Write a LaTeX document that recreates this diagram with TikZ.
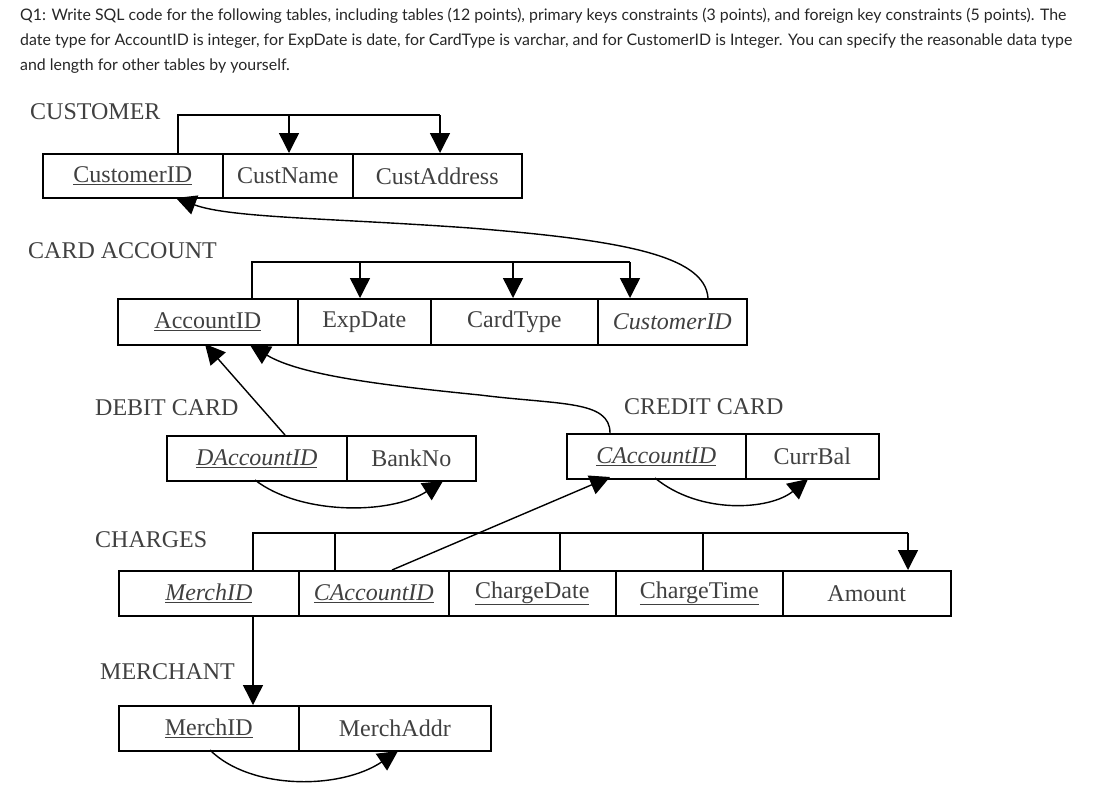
\documentclass[tikz,border=0pt]{standalone}
\usepackage{fontspec}
\setmainfont{Liberation Serif}
\newfontfamily\lato{Lato}
\usetikzlibrary{arrows.meta}
\begin{document}
\begin{tikzpicture}[x=1pt,y=-1pt,
  cell/.style={draw,line width=1.6pt,font=\fontsize{24}{24}\selectfont,text=black!75,inner sep=0pt,anchor=north west},
  lbl/.style={font=\fontsize{24}{24}\selectfont,text=black!75,anchor=west,inner sep=0pt},
  ar/.style={line width=1.4pt,-{Triangle[length=20pt,width=20pt]}},
  ln/.style={line width=1.4pt}]
\useasboundingbox (0,0) rectangle (1116,796);
\node[anchor=north west,inner sep=0pt,align=left,font=\lato\fontsize{15.9}{25}\selectfont,text=black!85] (hdr) at (20,8)
{Q1: Write SQL code for the following tables, including tables (12 points), primary keys constraints (3 points), and foreign key constraints (5 points). The\\
date type for AccountID is integer, for ExpDate is date, for CardType is varchar, and for CustomerID is Integer. You can specify the reasonable data type\\
and length for other tables by yourself.};
\newcommand\cel[6]{\node[cell,minimum width=#4-#2,minimum height=#5-#3] (#1) at (#2,#3) {#6};}
% CUSTOMER
\node[lbl] (lc) at (30,112) {CUSTOMER};
\cel{c1}{42}{153}{222}{197}{\underline{CustomerID}}
\cel{c2}{222}{153}{352}{197}{CustName}
\cel{c3}{352}{153}{521}{197}{CustAddress}
\coordinate (cb) at (178,115);
\draw[ln] (178,153) -- (cb) -- (440,115);
\draw[ar] (289,115) -- (289,153);
\draw[ar] (440,115) -- (440,153);
% CARD ACCOUNT
\node[lbl] (la) at (28,251) {CARD ACCOUNT};
\cel{a1}{117}{298}{297}{344}{\underline{AccountID}}
\cel{a2}{297}{298}{430}{344}{ExpDate}
\cel{a3}{430}{298}{597}{344}{CardType}
\cel{a4}{597}{298}{746}{344}{\itshape CustomerID}
\draw[ln] (252,298) -- (252,262) -- (630,262);
\draw[ar] (360,262) -- (360,298);
\draw[ar] (513,262) -- (513,298);
\draw[ar] (630,262) -- (630,298);
\draw[ar] (708,298) .. controls (705,255) and (620,240) .. (470,228) .. controls (330,218) and (230,218) .. (176,198);
% DEBIT CARD
\node[lbl] (ld) at (95,408) {DEBIT CARD};
\cel{d1}{166}{435}{346}{480}{\itshape\underline{DAccountID}}
\cel{d2}{346}{435}{475}{480}{BankNo}
\draw[ar] (285,435) -- (205,344);
\draw[ar] (255,480) .. controls (300,515) and (390,515) .. (443,481);
% CREDIT CARD
\node[lbl] (lcr) at (624,407) {CREDIT CARD};
\cel{r1}{566}{433}{745}{478}{\itshape\underline{CAccountID}}
\cel{r2}{745}{433}{878}{478}{CurrBal}
\draw[ar] (610,433) .. controls (610,400) and (560,405) .. (480,395) .. controls (380,385) and (300,375) .. (250,345);
\draw[ar] (655,478) .. controls (700,515) and (770,510) .. (808,479);
% CHARGES
\node[lbl] (lch) at (95,540) {CHARGES};
\cel{h1}{118}{570}{298}{615}{\itshape\underline{MerchID}}
\cel{h2}{298}{570}{448}{615}{\itshape\underline{CAccountID}}
\cel{h3}{448}{570}{615}{615}{\underline{ChargeDate}}
\cel{h4}{615}{570}{782}{615}{\underline{ChargeTime}}
\cel{h5}{782}{570}{950}{615}{Amount}
\draw[ln] (253,570) -- (253,533) -- (908,533);
\draw[ln] (335,533) -- (335,570);
\draw[ln] (560,533) -- (560,570);
\draw[ln] (703,533) -- (703,570);
\draw[ar] (908,533) -- (908,570);
\draw[ar] (392,570) -- (610,477);
% MERCHANT
\node[lbl] (lm) at (100,672) {MERCHANT};
\cel{m1}{118}{705}{298}{750}{\underline{MerchID}}
\cel{m2}{298}{705}{490}{750}{MerchAddr}
\draw[ar] (253,615) -- (253,705);
\draw[ar] (210,750) .. controls (250,790) and (340,790) .. (398,751);
\end{tikzpicture}
\end{document}
